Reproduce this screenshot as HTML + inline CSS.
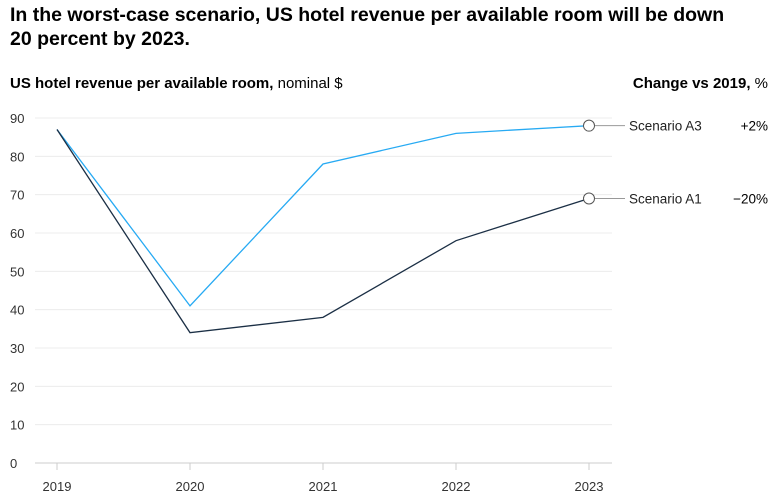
<!DOCTYPE html>
<html><head><meta charset="utf-8">
<style>
body{margin:0;background:#fff;font-family:"Liberation Sans",sans-serif;}
#wrap{position:relative;width:774px;height:496px;overflow:hidden;}
svg text{font-family:"Liberation Sans",sans-serif;}
</style></head>
<body>
<div id="wrap">
<svg id="chart" width="774" height="496">
<text x="10" y="21" font-size="19.5" font-weight="bold" fill="#000">In the worst-case scenario, US hotel revenue per available room will be down</text>
<text x="10" y="45" font-size="19.5" font-weight="bold" fill="#000">20 percent by 2023.</text>
<text x="10" y="88" font-size="15" fill="#000"><tspan font-weight="bold">US hotel revenue per available room,</tspan> nominal $</text>
<text x="768" y="88" font-size="15" fill="#000" text-anchor="end"><tspan font-weight="bold">Change vs 2019,</tspan> %</text>
<g id="grid"></g><g id="lines"></g><g id="labels"></g>
</svg>
</div>
<script>
const years=["2019","2020","2021","2022","2023"];
const yTicks=[0,10,20,30,40,50,60,70,80,90];
const seriesA3=[87,41,78,86,88];
const seriesA1=[87,34,38,58,69];
const seriesNames=["Scenario A3","Scenario A1"];
const changes=["+2%","\u221220%"];
const NS="http://www.w3.org/2000/svg";
const xS=i=>57+i*133;
const yS=v=>463-v*(345/90);
function mk(t,a,p){const e=document.createElementNS(NS,t);for(const k in a)e.setAttribute(k,a[k]);p.appendChild(e);return e;}
const grid=document.getElementById('grid'),lines=document.getElementById('lines'),labels=document.getElementById('labels');
yTicks.forEach(v=>{
 const l=mk('line',{x1:35,x2:612,y1:yS(v),y2:yS(v),stroke:v===0?'#ccc':'#ececec','stroke-width':1},grid);
 
 
 const t=mk('text',{x:10,y:yS(v)+5,'font-size':13,fill:'#333'},grid);t.textContent=v;
 
 
});
years.forEach((y,i)=>{
 const l=mk('line',{x1:xS(i),x2:xS(i),y1:463,y2:470,stroke:'#ccc'},grid);
 
 
 const t=mk('text',{x:xS(i),y:491,'font-size':13,fill:'#333','text-anchor':'middle'},grid);t.textContent=y;
 
 
});
[[seriesA3,'#27aaf3'],[seriesA1,'#1b2f45']].forEach((pair,si)=>{
 const s=pair[0],col=pair[1];
 const pts=s.map((v,i)=>xS(i)+','+yS(v)).join(' ');
 const p=mk('polyline',{points:pts,fill:'none',stroke:col,'stroke-width':1.3},lines);
 
 
 const last=s.length-1,ly=yS(s[last]);
 const c=mk('line',{x1:xS(last)+6,x2:625,y1:ly,y2:ly,stroke:'#999'},labels);
 
 
 const m=mk('circle',{cx:xS(last),cy:ly,r:5.5,fill:'#fff',stroke:'#555','stroke-width':1},labels);
 
 
 const t=mk('text',{x:629,y:ly+5,'font-size':13.5,fill:'#222'},labels);t.textContent=seriesNames[si];
 
 
 const ch=mk('text',{x:768,y:ly+5,'font-size':13.5,fill:'#000','text-anchor':'end'},labels);ch.textContent=changes[si];
 
 
});
</script>
</body></html>
